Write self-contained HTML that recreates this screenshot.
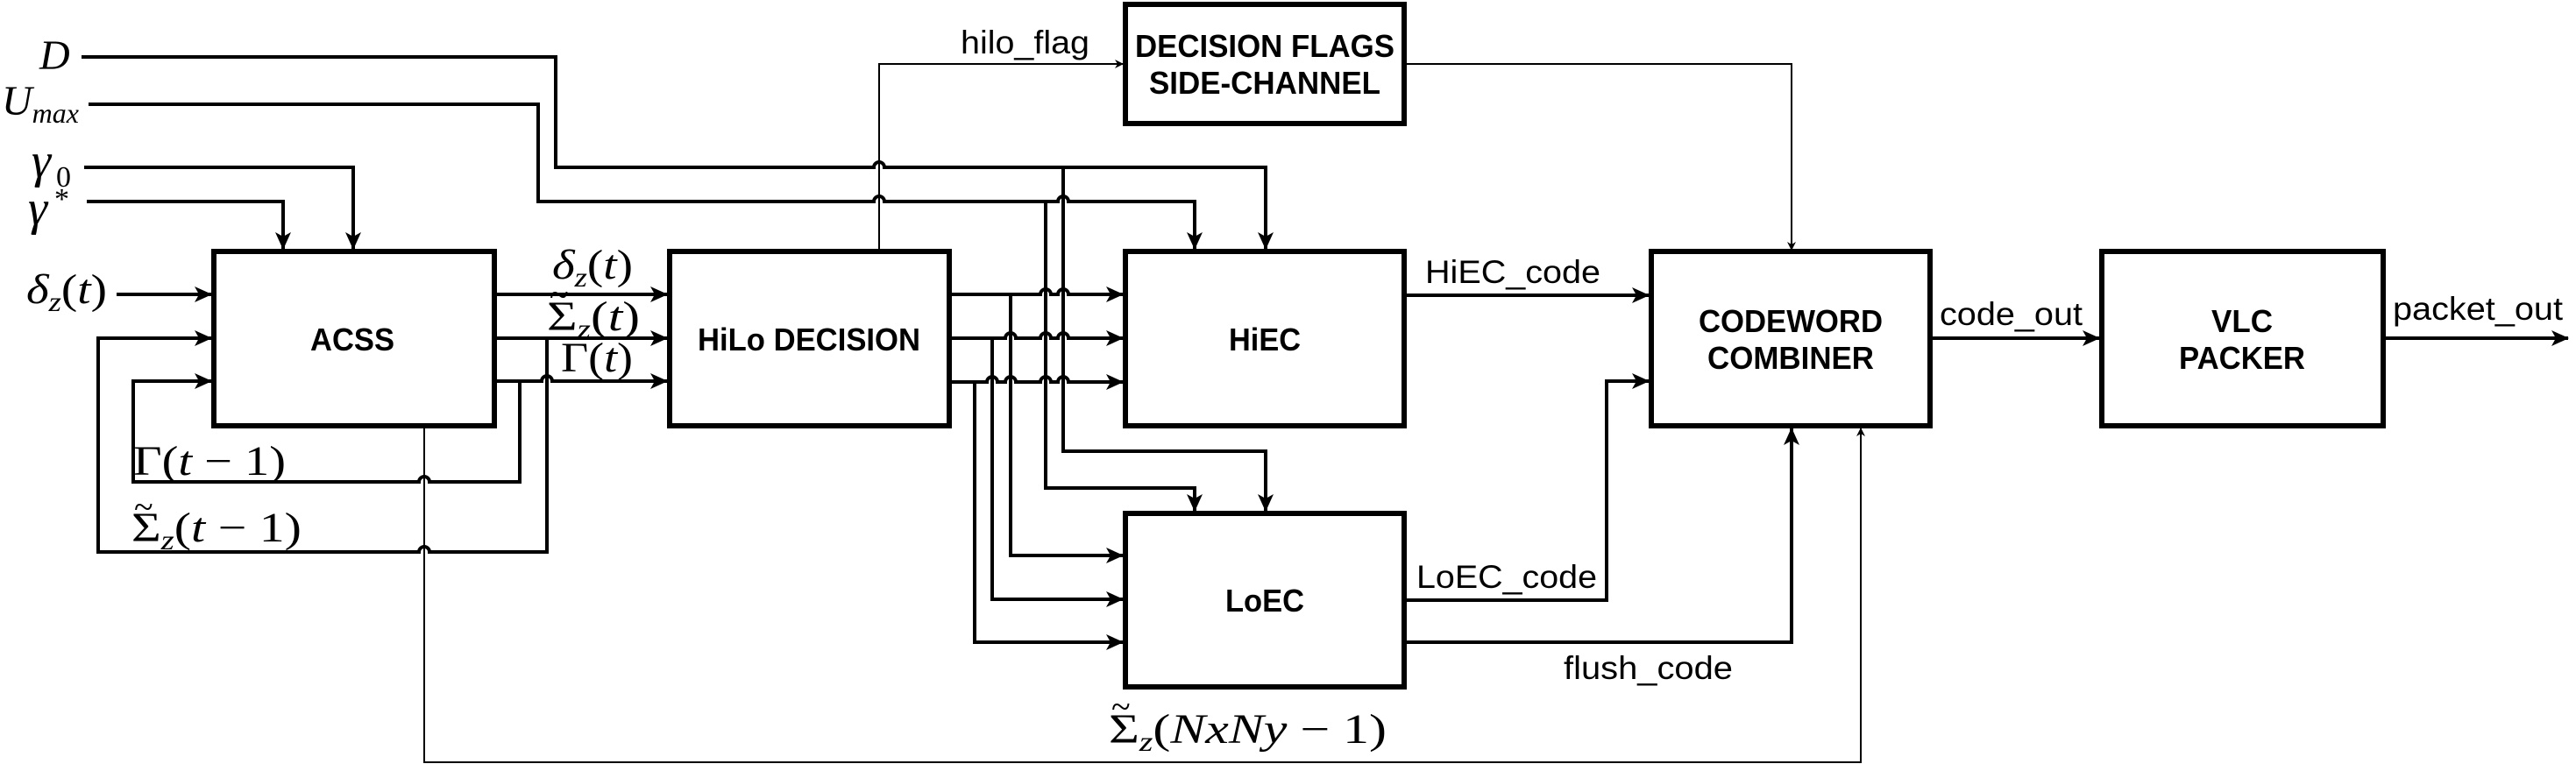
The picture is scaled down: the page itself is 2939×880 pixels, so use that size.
<!DOCTYPE html>
<html><head><meta charset="utf-8"><style>
html,body{margin:0;padding:0;background:#fff;}
svg{display:block}
.b{font-family:"Liberation Sans",sans-serif;font-weight:bold;font-size:36px;text-anchor:start}
.l{font-family:"Liberation Sans",sans-serif;font-size:37px}
.m{font-family:"Liberation Serif",serif;font-style:italic;font-size:48px}
.n{font-family:"Liberation Serif",serif;font-style:normal}
.t{font-family:"Liberation Serif",serif;font-size:40px}
</style></head><body>
<svg width="2939" height="880" viewBox="0 0 2939 880" xmlns="http://www.w3.org/2000/svg">
<defs>
<marker id="a" markerWidth="10" markerHeight="10" refX="9" refY="5" orient="auto" markerUnits="userSpaceOnUse" viewBox="0 0 10 10"><path d="M0,0 L10,5 L0,10 L3,5 z" fill="#000"/></marker>
<marker id="A" markerWidth="20" markerHeight="18" refX="19" refY="9" orient="auto" markerUnits="userSpaceOnUse" viewBox="0 0 20 18"><path d="M0,0 L20,9 L0,18 L5,9 z" fill="#000"/></marker>
</defs>
<g fill="none" stroke="#000" stroke-width="4">
<rect x="244" y="287" width="320" height="199" stroke-width="6"/>
<rect x="764" y="287" width="319" height="199" stroke-width="6"/>
<rect x="1284" y="287" width="318" height="199" stroke-width="6"/>
<rect x="1284" y="586" width="318" height="198" stroke-width="6"/>
<rect x="1284" y="5" width="318" height="136" stroke-width="6"/>
<rect x="1884" y="287" width="318" height="199" stroke-width="6"/>
<rect x="2398" y="287" width="321" height="199" stroke-width="6"/>

<path d="M96,191 H403 V284" marker-end="url(#A)"/>
<path d="M99,230 H323 V284" marker-end="url(#A)"/>
<path d="M133,336 H241" marker-end="url(#A)"/>

<path d="M93,65 H634 V191 H997 a6,6 0 0 1 12,0 H1444 V284" marker-end="url(#A)"/>
<path d="M101,119 H614 V230 H997 a6,6 0 0 1 12,0 H1207 a6,6 0 0 1 12,0 H1363 V284" marker-end="url(#A)"/>
<path d="M1213,191 V515 H1444 V583" marker-end="url(#A)"/>
<path d="M1193,230 V557 H1363 V583" marker-end="url(#A)"/>

<path d="M564,336 H761" marker-end="url(#A)"/>
<path d="M564,386 H761" marker-end="url(#A)"/>
<path d="M564,435 H618 a6,6 0 0 1 12,0 H761" marker-end="url(#A)"/>
<path d="M624,386 V630 H490 a6,6 0 0 0 -12,0 H112 V386 H241" marker-end="url(#A)"/>
<path d="M593,435 V550 H490 a6,6 0 0 0 -12,0 H152 V435 H241" marker-end="url(#A)"/>

<path d="M1083,336 H1187 a6,6 0 0 1 12,0 H1207 a6,6 0 0 1 12,0 H1281" marker-end="url(#A)"/>
<path d="M1083,386 H1147 a6,6 0 0 1 12,0 H1187 a6,6 0 0 1 12,0 H1207 a6,6 0 0 1 12,0 H1281" marker-end="url(#A)"/>
<path d="M1083,436 H1126 a6,6 0 0 1 12,0 H1147 a6,6 0 0 1 12,0 H1187 a6,6 0 0 1 12,0 H1207 a6,6 0 0 1 12,0 H1281" marker-end="url(#A)"/>
<path d="M1153,336 V634 H1281" marker-end="url(#A)"/>
<path d="M1132,386 V684 H1281" marker-end="url(#A)"/>
<path d="M1112,436 V733 H1281" marker-end="url(#A)"/>

<path d="M1602,337 H1881" marker-end="url(#A)"/>
<path d="M1602,685 H1833 V435 H1881" marker-end="url(#A)"/>
<path d="M1602,733 H2044 V489" marker-end="url(#A)"/>
<path d="M2202,386 H2395" marker-end="url(#A)"/>
<path d="M2719,386 H2930" marker-end="url(#A)"/>
</g>
<g fill="none" stroke="#000" stroke-width="2">
<path d="M1003,285 V73 H1281" marker-end="url(#a)"/>
<path d="M1602,73 H2044 V285" marker-end="url(#a)"/>
<path d="M484,487 V870 H2123 V489" marker-end="url(#a)"/>
</g>

<text class="b" x="354" y="400" textLength="96" lengthAdjust="spacingAndGlyphs">ACSS</text>
<text class="b" x="796" y="400" textLength="254" lengthAdjust="spacingAndGlyphs">HiLo DECISION</text>
<text class="b" x="1402" y="400" textLength="82" lengthAdjust="spacingAndGlyphs">HiEC</text>
<text class="b" x="1398" y="698" textLength="90" lengthAdjust="spacingAndGlyphs">LoEC</text>
<text class="b" x="1295" y="65" textLength="296" lengthAdjust="spacingAndGlyphs">DECISION FLAGS</text>
<text class="b" x="1311" y="107" textLength="264" lengthAdjust="spacingAndGlyphs">SIDE-CHANNEL</text>
<text class="b" x="1938" y="379" textLength="210" lengthAdjust="spacingAndGlyphs">CODEWORD</text>
<text class="b" x="1948" y="421" textLength="190" lengthAdjust="spacingAndGlyphs">COMBINER</text>
<text class="b" x="2523" y="379" textLength="70" lengthAdjust="spacingAndGlyphs">VLC</text>
<text class="b" x="2486" y="421" textLength="144" lengthAdjust="spacingAndGlyphs">PACKER</text>

<text class="l" x="1096" y="61" textLength="147" lengthAdjust="spacingAndGlyphs">hilo_flag</text>
<text class="l" x="1626" y="323" textLength="200" lengthAdjust="spacingAndGlyphs">HiEC_code</text>
<text class="l" x="1616" y="671" textLength="206" lengthAdjust="spacingAndGlyphs">LoEC_code</text>
<text class="l" x="1784" y="775" textLength="193" lengthAdjust="spacingAndGlyphs">flush_code</text>
<text class="l" x="2213" y="371" textLength="163" lengthAdjust="spacingAndGlyphs">code_out</text>
<text class="l" x="2730" y="365" textLength="194" lengthAdjust="spacingAndGlyphs">packet_out</text>

<text class="m" x="45" y="79">D</text>
<text class="m" x="2" y="131">U<tspan style="font-size:32px" dy="9">max</tspan></text>
<text class="m" x="36" y="202" style="font-size:56px">γ</text>
<text class="n" x="64" y="213" style="font-size:34px">0</text>
<text class="m" x="32" y="256" style="font-size:56px">γ</text>
<text class="n" x="62" y="238" style="font-size:34px">*</text>
<text class="m" x="30" y="346" textLength="92" lengthAdjust="spacingAndGlyphs">δ<tspan style="font-size:32px" dy="9">z</tspan><tspan class="n" dy="-9">(</tspan>t<tspan class="n">)</tspan></text>
<text class="m" x="630" y="318" textLength="92" lengthAdjust="spacingAndGlyphs">δ<tspan style="font-size:32px" dy="9">z</tspan><tspan class="n" dy="-9">(</tspan>t<tspan class="n">)</tspan></text>
<text class="t" x="627" y="350">~</text>
<text class="m" x="624" y="377" textLength="106" lengthAdjust="spacingAndGlyphs"><tspan class="n">Σ</tspan><tspan style="font-size:32px" dy="9">z</tspan><tspan class="n" dy="-9">(</tspan>t<tspan class="n">)</tspan></text>
<text class="m" x="640" y="424" textLength="82" lengthAdjust="spacingAndGlyphs"><tspan class="n">Γ(</tspan>t<tspan class="n">)</tspan></text>
<text class="m" x="152" y="542" textLength="174" lengthAdjust="spacingAndGlyphs"><tspan class="n">Γ(</tspan>t<tspan class="n"> − 1)</tspan></text>
<text class="t" x="153" y="592">~</text>
<text class="m" x="150" y="618" textLength="194" lengthAdjust="spacingAndGlyphs"><tspan class="n">Σ</tspan><tspan style="font-size:32px" dy="9">z</tspan><tspan class="n" dy="-9">(</tspan>t<tspan class="n"> − 1)</tspan></text>
<text class="t" x="1268" y="820">~</text>
<text class="m" x="1265" y="848" textLength="317" lengthAdjust="spacingAndGlyphs"><tspan class="n">Σ</tspan><tspan style="font-size:32px" dy="9">z</tspan><tspan class="n" dy="-9">(</tspan>NxNy<tspan class="n"> − 1)</tspan></text>
</svg>
</body></html>
